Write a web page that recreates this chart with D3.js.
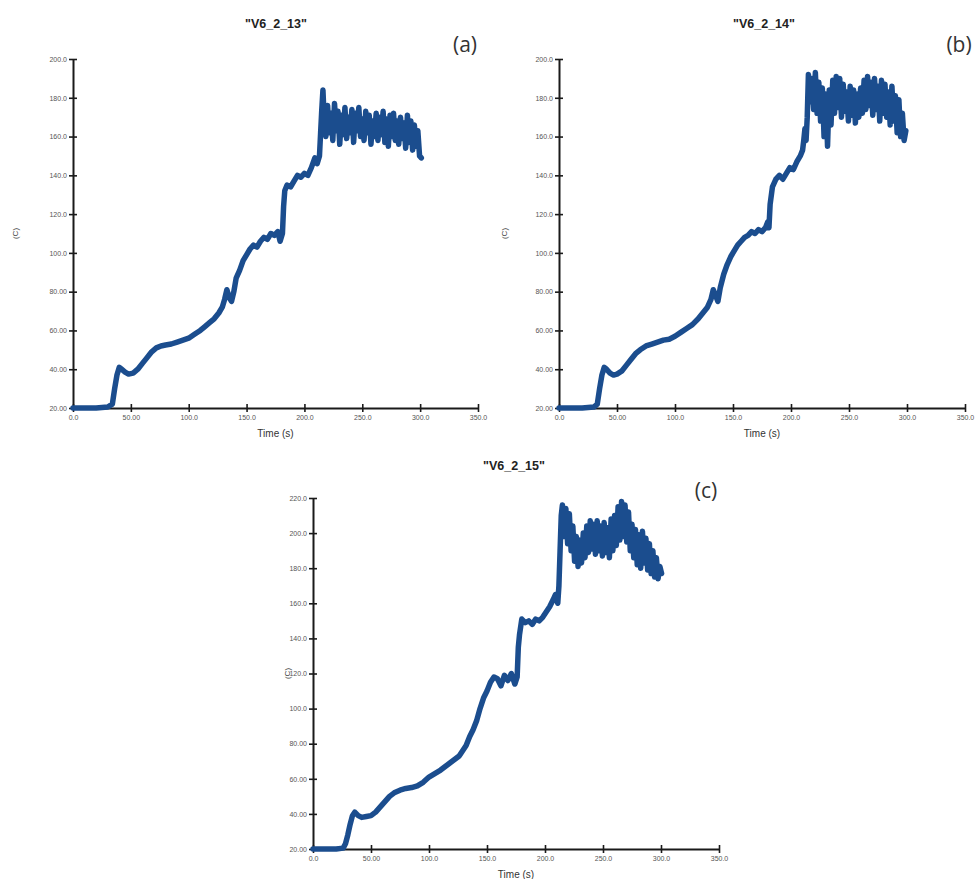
<!DOCTYPE html>
<html><head><meta charset="utf-8">
<script src="https://cdn.jsdelivr.net/npm/d3@7"></script>
<style>body{margin:0;background:#fff}svg{display:block}</style>
</head><body>
<svg id="chart" width="977" height="879"></svg>
<script>
// ---------- data ----------
const xTickValues = [0, 50, 100, 150, 200, 250, 300, 350];
const xTickLabels = ["0.0", "50.00", "100.0", "150.0", "200.0", "250.0", "300.0", "350.0"];
const yTickValuesAB = [20, 40, 60, 80, 100, 120, 140, 160, 180, 200];
const yTickLabelsAB = ["20.00", "40.00", "60.00", "80.00", "100.0", "120.0", "140.0", "160.0", "180.0", "200.0"];
const yTickValuesC = [20, 40, 60, 80, 100, 120, 140, 160, 180, 200, 220];
const yTickLabelsC = ["20.00", "40.00", "60.00", "80.00", "100.0", "120.0", "140.0", "160.0", "180.0", "200.0", "220.0"];
const titles = ['"V6_2_13"', '"V6_2_14"', '"V6_2_15"'];
const panelTags = ["(a)", "(b)", "(c)"];
const xLabel = "Time (s)";
const yLabel = "(C)";

const timeA = [0,10,20,30,34,36,38,40,42,45,48,52,56,60,64,68,72,76,80,85,90,95,100,105,110,114,118,122,126,129,131,133,135,137,139,141,144,147,150,153,156,159,162,165,168,171,174,177,179,181,182,183,185,188,191,194,197,200,203,206,209,211,213,214,215,216,
  217,218.5,220,221.5,223,224.5,226,227.5,229,230.5,232,233.5,235,236.5,238,239.5,241,242.5,244,245.5,247,248.5,250,251.5,253,254.5,256,257.5,259,260.5,262,263.5,265,266.5,268,269.5,271,272.5,274,275.5,277,278.5,280,281.5,283,284.5,286,287.5,289,290.5,292,293.5,295,296.5,298,299.5,301];
const tempA = [20,20,20,20.5,22,30,37,41,40,38.5,37.5,38,40,43,46,49,51,52,52.5,53,54,55,56,58,60,62,64,66,69,72,76,81,77,75,80,87,91,96,99,102,104,103,106,108,107,110,109,111,106,110,124,132,135,134,137,140,139,141,140,144,149,146,150,162,174,184,
  170,160,176,162,172,158,177,163,173,156,171,161,175,159,170,162,174,157,172,163,175,160,169,158,173,162,171,156,168,160,172,158,170,161,173,157,169,155,171,160,172,158,168,156,170,159,167,154,171,157,168,153,166,155,163,150,149];

const timeB = [0,10,20,30,33,35,37,39,41,44,47,50,54,58,62,66,70,75,80,85,90,95,100,105,110,115,120,124,128,131,133,135,137,139,142,145,148,151,154,157,160,163,166,169,172,175,178,180,181,182,184,187,190,193,196,199,202,205,208,210,211,212,213,214,
  215,216.5,218,219.5,221,222.5,224,225.5,227,228.5,230,231.5,233,234.5,236,237.5,239,240.5,242,243.5,245,246.5,248,249.5,251,252.5,254,255.5,257,258.5,260,261.5,263,264.5,266,267.5,269,270.5,272,273.5,275,276.5,278,279.5,281,282.5,284,285.5,287,288.5,290,291.5,293,294.5,296,297.5,299];
const tempB = [20,20,20,20.5,22,30,37,41,40,38,37,37.5,39,42,45,48,50,52,53,54,55,55.5,57,59,61,63,66,69,72,76,81,78,75,82,89,94,98,101,104,106,108,109,111,110,112,111,113,116,113,125,134,138,140,138,141,144,143,147,150,153,158,164,158,170,
  192,178,190,174,193,172,188,168,185,160,182,155,184,166,189,172,191,175,190,170,187,173,183,168,186,171,184,167,182,170,185,172,189,174,191,176,188,171,190,174,186,168,189,172,187,170,183,166,186,168,181,162,179,160,172,158,163];

const timeC = [0,10,20,26,28,30,32,34,36,39,42,46,50,54,58,62,66,70,75,80,85,90,95,100,105,110,114,118,122,126,129,132,135,138,141,144,147,150,153,156,159,162,165,168,171,174,176,177,178,180,183,186,189,192,195,198,201,204,207,209,211,212,213,214,
  215,216.5,218,219.5,221,222.5,224,225.5,227,228.5,230,231.5,233,234.5,236,237.5,239,240.5,242,243.5,245,246.5,248,249.5,251,252.5,254,255.5,257,258.5,260,261.5,263,264.5,266,267.5,269,270.5,272,273.5,275,276.5,278,279.5,281,282.5,284,285.5,287,288.5,290,291.5,293,294.5,296,297.5,299,300.5];
const tempC = [20,20,20,20.5,23,28,34,39,41,39,38,38.5,39,41,44,47,50,52,53.5,54.5,55,56,58,61,63,65,67,69,71,73,76,79,84,88,93,100,106,110,115,118,117,113,119,116,120,114,118,135,142,151,149,150,148,151,150,152,155,158,162,165,160,170,190,210,
  216,198,214,194,211,190,204,184,198,181,196,183,200,186,204,189,207,191,205,188,207,190,204,187,206,189,203,186,208,190,210,193,215,196,218,198,216,195,212,190,205,186,202,182,199,180,201,183,197,179,194,177,190,175,186,174,181,177];

// ---------- layout ----------
const panels = [
  {time: timeA, temp: tempA, title: titles[0], tag: panelTags[0], yTicks: yTickValuesAB, yLabels: yTickLabelsAB, yDomain: [20, 200],
   x0: 73, x1: 478, yb: 408, yt: 59, titleX: 276, titleY: 28, tagX: 465, tagY: 52, ylabX: 15},
  {time: timeB, temp: tempB, title: titles[1], tag: panelTags[1], yTicks: yTickValuesAB, yLabels: yTickLabelsAB, yDomain: [20, 200],
   x0: 559, x1: 965, yb: 408, yt: 59, titleX: 764, titleY: 28, tagX: 959, tagY: 52, ylabX: 504},
  {time: timeC, temp: tempC, title: titles[2], tag: panelTags[2], yTicks: yTickValuesC, yLabels: yTickLabelsC, yDomain: [20, 220],
   x0: 313, x1: 719, yb: 849, yt: 498, titleX: 514, titleY: 470, tagX: 706, tagY: 498, ylabX: 287}
];

const svg = d3.select("#chart");
const lineColor = "#1b4d8e";

panels.forEach(p => {
  const g = svg.append("g");
  const x = d3.scaleLinear().domain([0, 350]).range([p.x0, p.x1]);
  const y = d3.scaleLinear().domain(p.yDomain).range([p.yb, p.yt]);

  const xAxis = d3.axisBottom(x).tickValues(xTickValues)
    .tickFormat((d, i) => xTickLabels[i]).tickSizeInner(4).tickSizeOuter(0).tickPadding(3);
  const yAxis = d3.axisLeft(y).tickValues(p.yTicks)
    .tickFormat((d, i) => p.yLabels[i]).tickSizeInner(4).tickSizeOuter(0).tickPadding(2);

  const gx = g.append("g").attr("transform", `translate(0,${p.yb})`).call(xAxis);
  const gy = g.append("g").attr("transform", `translate(${p.x0},0)`).call(yAxis);

  [gx, gy].forEach(a => {
    a.select(".domain").attr("stroke", "#1a1a1a").attr("stroke-width", 2);
    a.selectAll(".tick line").attr("stroke", "#1a1a1a").attr("stroke-width", 1.6);
    a.selectAll(".tick text").attr("fill", "#555")
      .style("font-family", "'Liberation Sans', Arial, sans-serif").style("font-size", "7px");
  });
  gx.selectAll(".tick line").attr("y1", -4);
  gy.selectAll(".tick line").attr("x1", 4);

  const line = d3.line().x((d, i) => x(p.time[i])).y(d => y(d));
  g.append("path").datum(p.temp).attr("d", line)
    .attr("fill", "none").attr("stroke", lineColor).attr("stroke-width", 5.5)
    .attr("stroke-linejoin", "round").attr("stroke-linecap", "round");

  g.append("text").attr("x", p.titleX).attr("y", p.titleY).attr("text-anchor", "middle")
    .style("font-family", "'Liberation Sans', Arial, sans-serif").style("font-size", "12.5px")
    .style("font-weight", "bold").attr("fill", "#222").text(p.title);

  g.append("text").attr("x", p.tagX).attr("y", p.tagY).attr("text-anchor", "middle")
    .style("font-family", "'Open Sans', sans-serif").style("font-size", "21px")
    .attr("fill", "#333").text(p.tag);

  g.append("text").attr("x", (p.x0 + p.x1) / 2).attr("y", p.yb + 29).attr("text-anchor", "middle")
    .style("font-family", "'Liberation Sans', Arial, sans-serif").style("font-size", "10px")
    .attr("fill", "#333").text(xLabel);

  const yc = (p.yb + p.yt) / 2;
  g.append("text").attr("transform", `translate(${p.ylabX},${yc}) rotate(-90)`).attr("text-anchor", "middle")
    .attr("dy", "0.35em")
    .style("font-family", "'Liberation Sans', Arial, sans-serif").style("font-size", "8px")
    .attr("fill", "#444").text(yLabel);
});
</script>
</body></html>
